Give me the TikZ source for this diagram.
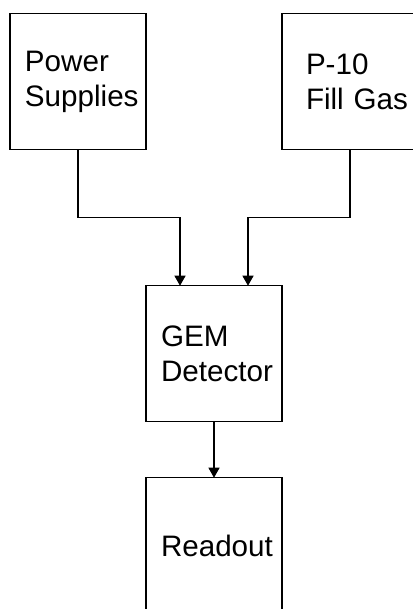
\documentclass[tikz,border=0pt]{standalone}
\usepackage{fontspec}
\setmainfont{Liberation Sans}
\usetikzlibrary{arrows.meta, positioning, calc}

\begin{document}
\begin{tikzpicture}[
  x=0.5pt, y=-0.5pt,
  font=\fontsize{14.8pt}{17.5pt}\selectfont,
  block/.style={draw=black, line width=0.65pt, minimum width=68pt, minimum height=68pt,
                outer sep=0pt, inner ysep=0pt, align=left, inner xsep=7.5pt, text width=53pt},
  gasblock/.style={block, inner xsep=12pt, text width=44pt},
  feed/.style={-{Triangle[length=5pt, width=5.5pt]}, line width=0.65pt, black}]

\useasboundingbox (0,0) rectangle (412,609);

% ---------- sources
\node[block]    (ps)  at (78,81.5)  {Power\\Supplies};
\node[gasblock] (gas) at (350,81.5) {P-10\\Fill~Gas};

% ---------- detector and readout
\node[block] (gem) at (214,353.7)       {GEM\\Detector};
\node[block] (ro)  [below=28pt of gem]  {Readout};

% ---------- feeds into the detector
\coordinate (gemL) at ($(gem.north west)!0.25!(gem.north east)$);
\coordinate (gemR) at ($(gem.north west)!0.75!(gem.north east)$);
\draw[feed] (ps.south)  -- ++(0,68) -| (gemL);
\draw[feed] (gas.south) -- ++(0,68) -| (gemR);

% ---------- detector to readout
\draw[feed] (gem.south) -- (ro.north);
\end{tikzpicture}
\end{document}
